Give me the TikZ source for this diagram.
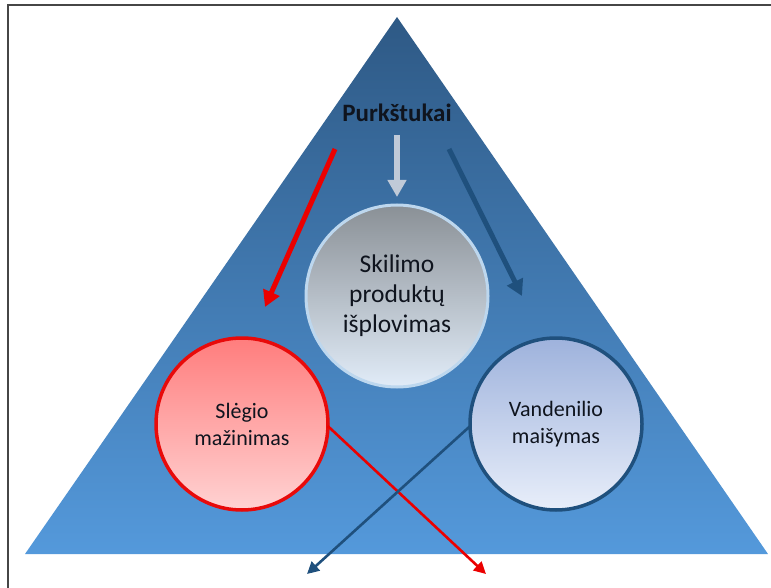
\documentclass[tikz,border=0pt]{standalone}
\usepackage{fontspec}
\setmainfont{Carlito}
\usetikzlibrary{arrows.meta}
\definecolor{triTop}{RGB}{46,89,133}
\definecolor{triBot}{RGB}{84,153,219}
\definecolor{darkblue}{RGB}{31,80,125}
\definecolor{arrowgrey}{RGB}{192,202,216}
\definecolor{txt}{RGB}{15,20,30}
\definecolor{framegrey}{RGB}{70,70,70}
\tikzset{
  bubble/.style={circle, inner sep=0pt, align=center, text=txt},
  bigarrow/.style={line width=5pt, -{Triangle[width=17pt,length=16pt]}},
  thinarrow/.style={line width=2.6pt, -{Triangle[width=12pt,length=12pt]}},
}
\begin{document}
\begin{tikzpicture}[x=1pt,y=-1pt]
\useasboundingbox (0,0) rectangle (771,588);
% frame
\draw[framegrey, line width=1.5pt] (771,5) -- (8,5) -- (8,588);
% triangle
\shade[top color=triTop, bottom color=triBot] (397,17) -- (768,554) -- (25,554) -- cycle;
% title
\node[font=\bfseries\fontsize{25}{29}\selectfont, text=txt] (P) at (397,113) {Purkštukai};
% circles
\node[bubble, minimum size=182pt, draw={rgb,255:red,189;green,215;blue,238}, line width=3pt,
      top color={rgb,255:red,138;green,144;blue,150}, bottom color={rgb,255:red,225;green,236;blue,248},
      font=\fontsize{25.5}{30}\selectfont] (C) at (397,296) {Skilimo\\produktų\\išplovimas};
\node[bubble, minimum size=172pt, draw={rgb,255:red,232;green,10;blue,10}, line width=3.5pt,
      top color={rgb,255:red,255;green,125;blue,125}, bottom color={rgb,255:red,255;green,210;blue,210},
      font=\fontsize{22}{27}\selectfont] (L) at (242,424) {Slėgio\\mažinimas};
\node[bubble, minimum size=172pt, draw=darkblue, line width=3.5pt,
      top color={rgb,255:red,158;green,178;blue,220}, bottom color={rgb,255:red,232;green,238;blue,250},
      font=\fontsize{22}{27}\selectfont] (R) at (556,424) {Vandenilio\\maišymas};
% arrow coordinates
\coordinate (gs) at (397,135);
\coordinate (ge) at (397,197);
\coordinate (rs) at (335,149);
\coordinate (re) at (265,307);
\coordinate (bs) at (449,149);
\coordinate (be) at (522,296);
\coordinate (rx) at (486,574);
\coordinate (bx) at (307,574);
% arrows
\draw[bigarrow, arrowgrey, line width=6pt, -{Triangle[width=18pt,length=17pt]}] (gs) -- (ge);
\draw[bigarrow, red!92!black] (rs) -- (re);
\draw[bigarrow, darkblue] (bs) -- (be);
\draw[thinarrow, red!92!black] (L.east) ++(-2,2) -- (rx);
\draw[thinarrow, darkblue] (R.west) ++(2,2) -- (bx);
\end{tikzpicture}
\end{document}
